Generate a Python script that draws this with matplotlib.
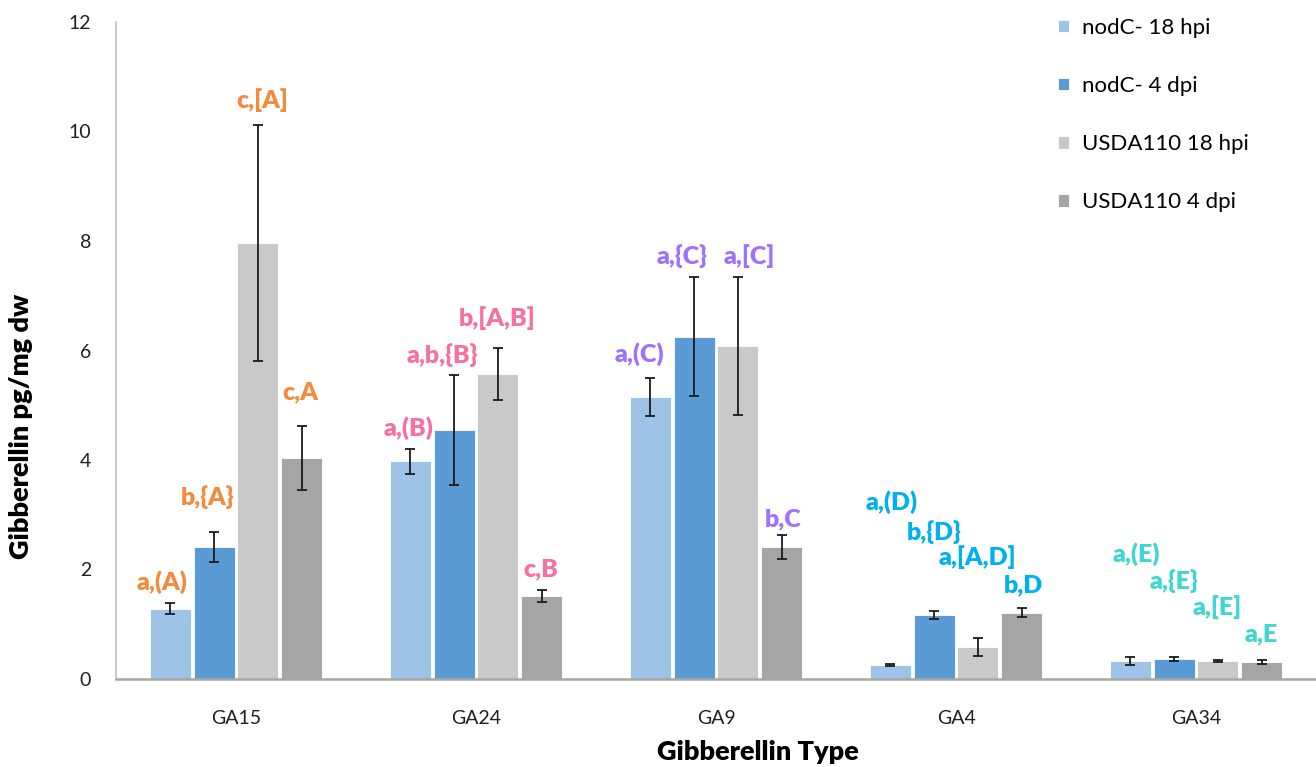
import matplotlib
matplotlib.use("Agg")
import matplotlib.pyplot as plt
import numpy as np

plt.rcParams["font.family"] = ["Lato", "DejaVu Sans"]

ga_types = ["GA15", "GA24", "GA9", "GA4", "GA34"]
series = ["nodC- 18 hpi", "nodC- 4 dpi", "USDA110 18 hpi", "USDA110 4 dpi"]
colors = ["#9DC3E6", "#5B9BD5", "#C9C9C9", "#A5A5A5"]

# mean pg/mg dw, one list per treatment (order follows ga_types)
nodc_18h = [1.28, 3.98, 5.15, 0.26, 0.33]
nodc_4d = [2.41, 4.55, 6.25, 1.17, 0.36]
usda_18h = [7.96, 5.57, 6.08, 0.58, 0.33]
usda_4d = [4.04, 1.52, 2.41, 1.21, 0.31]

# error bar half-widths
nodc_18h_err = [0.10, 0.23, 0.35, 0.02, 0.08]
nodc_4d_err = [0.28, 1.00, 1.09, 0.08, 0.04]
usda_18h_err = [2.16, 0.48, 1.26, 0.16, 0.02]
usda_4d_err = [0.58, 0.11, 0.22, 0.08, 0.04]

# significance letters per bar
letters = [
    ["a,(A)", "b,{A}", "c,[A]", "c,A"],
    ["a,(B)", "a,b,{B}", "b,[A,B]", "c,B"],
    ["a,(C)", "a,{C}", "a,[C]", "b,C"],
    ["a,(D)", "b,{D}", "a,[A,D]", "b,D"],
    ["a,(E)", "a,{E}", "a,[E]", "a,E"],
]
letter_colors = ["#F58A3A", "#F7709E", "#A070FF", "#00B0F0", "#3DD6D0"]
# label anchor (x offset from group centre, y in data units)
letter_dx = [
    [-0.31, -0.12, 0.11, 0.27],
    [-0.28, -0.14, 0.09, 0.27],
    [-0.32, -0.14, 0.14, 0.28],
    [-0.27, -0.09, 0.09, 0.28],
    [-0.25, -0.09, 0.09, 0.27],
]
letter_y = [
    [1.77, 3.32, 10.57, 5.23],
    [4.59, 5.92, 6.59, 2.01],
    [5.94, 7.73, 7.73, 2.92],
    [3.23, 2.68, 2.23, 1.72],
    [2.28, 1.79, 1.31, 0.82],
]

means = [nodc_18h, nodc_4d, usda_18h, usda_4d]
errs = [nodc_18h_err, nodc_4d_err, usda_18h_err, usda_4d_err]

fig = plt.figure(figsize=(13.16, 7.67), dpi=100)
ax = fig.add_axes([116 / 1316, 1 - 679 / 767, 1200 / 1316, 657 / 767])

x = np.arange(len(ga_types))
pitch = 0.1823
for i, (m, e) in enumerate(zip(means, errs)):
    xs = x + (i - 1.5) * pitch
    ax.bar(xs, m, width=0.171, color=colors[i], edgecolor="white", lw=0.6,
           label=series[i], zorder=2)
    ax.errorbar(xs, m, yerr=e, fmt="none", ecolor="#1a1a1a", elinewidth=1.3,
                capsize=3.6, capthick=1.3, zorder=3)

for g in range(len(ga_types)):
    for i in range(4):
        ax.text(x[g] + letter_dx[g][i], letter_y[g][i], letters[g][i],
                color=letter_colors[g], fontsize=18, fontweight="heavy",
                ha="center", va="center", zorder=4)

ax.set_xlim(-0.5, 4.5)
ax.set_ylim(0, 12)
ax.set_yticks(range(0, 13, 2))
ax.set_xticks(x)
ax.set_xticklabels(ga_types)
ax.tick_params(length=0, labelsize=14, labelcolor="#1f1f1f")
ax.tick_params(axis="x", pad=22)
ax.tick_params(axis="y", pad=18)
for s in ["top", "right"]:
    ax.spines[s].set_visible(False)
ax.spines["left"].set_color("#BFBFBF")
ax.spines["left"].set_linewidth(1.2)
ax.spines["bottom"].set_color("#A6A6A6")
ax.spines["bottom"].set_linewidth(1.8)

ax.set_ylabel("Gibberellin pg/mg dw", fontsize=19.5, fontweight="heavy")
ax.yaxis.set_label_coords(-0.069, 0.384)
fig.text(758 / 1316, 1 - 752 / 767, "Gibberellin Type", fontsize=19.5,
         fontweight="heavy", ha="center", va="center")

leg = ax.legend(loc="upper left", bbox_to_anchor=(1040 / 1316, 1.0),
                bbox_transform=fig.transFigure, frameon=False, fontsize=16,
                handlelength=0.5, handleheight=0.5, handletextpad=0.6,
                labelspacing=1.72, borderpad=0.3)

fig.savefig("out.png", dpi=100)
